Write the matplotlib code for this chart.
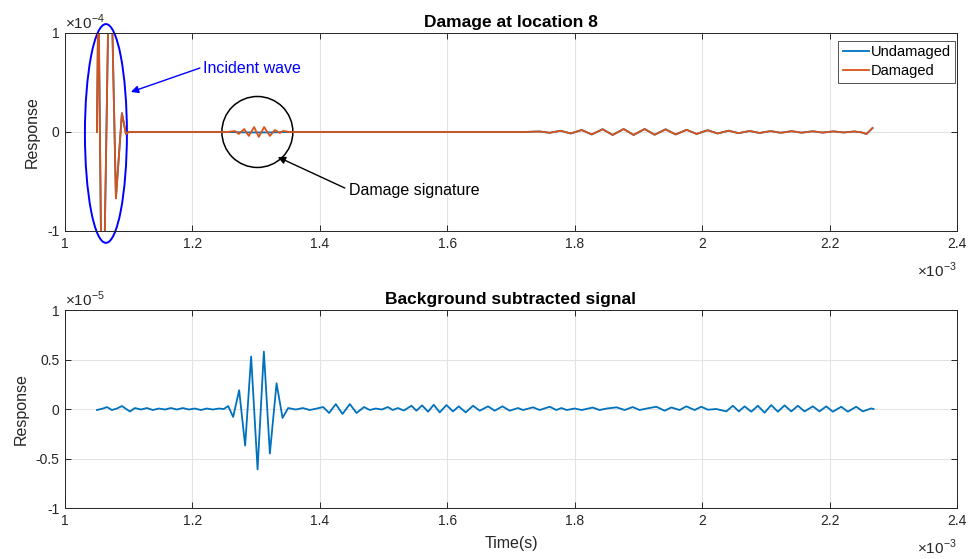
import numpy as np
import matplotlib.pyplot as plt
from matplotlib.patches import Ellipse

plt.rcParams['font.family'] = ['Liberation Sans', 'DejaVu Sans']
plt.rcParams['mathtext.fontset'] = 'custom'
plt.rcParams['mathtext.rm'] = 'Liberation Sans'

# time in ms, top response in 1e-4, bottom response in 1e-5
inc_t = [1.0502, 1.0525, 1.0588, 1.0706, 1.0800, 1.0894, 1.0957, 1.1004]
inc_v = [0.0, 1.5, -2.5, 2.2, -0.67, 0.19, -0.02, 0.0]

und_sig_t = [1.2557, 1.2800, 1.3000, 1.3250, 1.3529]
und_sig_v = [0.0, -0.004, -0.005, -0.004, 0.0]

dmg_sig_t = [1.2557, 1.2667, 1.2729, 1.2813, 1.2886, 1.2969, 1.3043, 1.3126,
             1.3216, 1.3294, 1.3373, 1.3424, 1.3529]
dmg_sig_v = [0.0, 0.01, -0.02, 0.03, -0.04, 0.05, -0.05, 0.05,
             -0.04, 0.02, -0.01, 0.01, 0.0]

ripple_t = [1.7200, 1.7451, 1.7608, 1.7780, 1.7937, 1.8110, 1.8267, 1.8439,
            1.8596, 1.8769, 1.8925, 1.9098, 1.9255, 1.9427, 1.9584, 1.9757,
            1.9914, 2.0086, 2.0243, 2.0416, 2.0573, 2.0745, 2.0902, 2.1075,
            2.1231, 2.1404, 2.1561, 2.1733, 2.1890, 2.2063, 2.2220, 2.2392,
            2.2502, 2.2580, 2.2675]
ripple_v = [0.0, 0.005, -0.008, 0.012, -0.015, 0.02, -0.025, 0.028,
            -0.03, 0.03, -0.03, 0.03, -0.028, 0.027, -0.025, 0.022,
            -0.02, 0.018, -0.015, 0.013, -0.012, 0.01, -0.01, 0.009,
            -0.008, 0.008, -0.007, 0.007, -0.006, 0.006, -0.005, 0.005,
            -0.004, -0.02, 0.04]

diff_t = [1.0502, 1.0596, 1.0659, 1.0737, 1.0816, 1.0894, 1.0973, 1.1020,
          1.1098, 1.1192, 1.1286, 1.1380, 1.1475, 1.1569, 1.1663, 1.1757,
          1.1851, 1.1945, 1.2039, 1.2133, 1.2227, 1.2322, 1.2416, 1.2494,
          1.2562, 1.2640, 1.2734, 1.2828, 1.2922, 1.3023, 1.3122, 1.3216,
          1.3321, 1.3415, 1.3503, 1.3624, 1.3733, 1.3843, 1.3953, 1.4052,
          1.4146, 1.4251, 1.4356, 1.4471, 1.4576, 1.4695, 1.4784, 1.4878,
          1.4973, 1.5067, 1.5145, 1.5224, 1.5318, 1.5438, 1.5517, 1.5605,
          1.5699, 1.5788, 1.5882, 1.5987, 1.6091, 1.6180, 1.6290, 1.6405,
          1.6510, 1.6640, 1.6745, 1.6866, 1.6980, 1.7111, 1.7189, 1.7346,
          1.7451, 1.7608, 1.7713, 1.7791, 1.7875, 1.8000, 1.8110, 1.8282,
          1.8392, 1.8502, 1.8659, 1.8784, 1.8910, 1.9020, 1.9129, 1.9282,
          1.9412, 1.9517, 1.9647, 1.9752, 1.9882, 1.9987, 2.0091, 2.0223,
          2.0380, 2.0483, 2.0577, 2.0667, 2.0772, 2.0875, 2.0980, 2.1085,
          2.1189, 2.1294, 2.1399, 2.1503, 2.1608, 2.1738, 2.1843, 2.1948,
          2.2052, 2.2184, 2.2287, 2.2419, 2.2522, 2.2654, 2.2690]
diff_v = [-0.01, 0.005, 0.02, -0.01, 0.005, 0.03, -0.005, -0.025,
          0.01, -0.005, 0.01, -0.01, 0.005, -0.005, 0.01, -0.005,
          0.01, -0.005, 0.005, -0.01, 0.005, -0.005, 0.005, 0.0,
          0.03, -0.08, 0.19, -0.37, 0.53, -0.61, 0.58, -0.45,
          0.26, -0.09, 0.01, -0.005, 0.01, -0.01, 0.005, 0.02,
          -0.04, 0.05, -0.05, 0.05, -0.04, 0.02, -0.01, 0.005,
          -0.005, 0.02, -0.01, 0.01, -0.015, 0.033, -0.017, 0.037,
          -0.027, 0.043, -0.034, 0.04, -0.024, 0.027, -0.034, 0.033,
          -0.017, 0.027, -0.017, 0.027, -0.017, 0.01, -0.01, 0.017,
          -0.01, 0.023, -0.01, 0.01, -0.01, 0.005, -0.01, 0.015,
          -0.01, 0.005, 0.017, -0.01, 0.02, -0.01, 0.005, 0.023,
          -0.017, 0.016, -0.01, 0.027, -0.01, 0.023, -0.007, 0.0,
          -0.024, 0.033, -0.024, 0.027, -0.027, 0.033, -0.037, 0.04,
          -0.027, 0.037, -0.024, 0.033, -0.024, 0.027, -0.024, 0.027,
          -0.027, 0.023, -0.027, 0.023, -0.024, 0.006, 0.0]

x_ticks = [1, 1.2, 1.4, 1.6, 1.8, 2, 2.2, 2.4]
x_tick_labels = ['1', '1.2', '1.4', '1.6', '1.8', '2', '2.2', '2.4']

BLUE = '#0072BD'
ORANGE = '#D95319'
AXC = '#262626'

und_t = inc_t + und_sig_t + ripple_t
und_v = inc_v + und_sig_v + ripple_v
dmg_t = inc_t + dmg_sig_t + ripple_t
dmg_v = inc_v + dmg_sig_v + ripple_v


def style_axes(ax, yticks, ylabels, exp_y):
    ax.set_xlim(1, 2.4)
    ax.set_ylim(-1, 1)
    ax.set_xticks(x_ticks)
    ax.set_xticklabels(x_tick_labels)
    ax.set_yticks(yticks)
    ax.set_yticklabels(ylabels)
    ax.grid(True, color='#e3e3e3', linewidth=0.8)
    ax.set_axisbelow(True)
    ax.tick_params(direction='in', length=4, width=0.7, colors=AXC,
                   labelsize=10, top=True, right=True, pad=4)
    for s in ax.spines.values():
        s.set_color(AXC)
        s.set_linewidth(0.7)
    ax.set_ylabel('Response', fontsize=11.5, color=AXC, labelpad=5)
    ax.text(0, 1.005, r'$\times10^{%d}$' % exp_y, transform=ax.transAxes,
            ha='left', va='bottom', fontsize=11, color=AXC)
    ax.text(1, -0.15, r'$\times10^{-3}$', transform=ax.transAxes,
            ha='right', va='top', fontsize=11, color=AXC)


fig = plt.figure(figsize=(9.68, 5.59), dpi=100)
ax1 = fig.add_axes([0.0671, 0.5868, 0.9215, 0.3542])
ax2 = fig.add_axes([0.0671, 0.0912, 0.9215, 0.3542])

# top: undamaged vs damaged
ax1.plot(und_t, und_v, color=BLUE, linewidth=1.3, label='Undamaged')
ax1.plot(dmg_t, dmg_v, color=ORANGE, linewidth=1.3, label='Damaged')
style_axes(ax1, [-1, 0, 1], ['-1', '0', '1'], -4)
ax1.set_title('Damage at location 8', fontsize=12.5, fontweight='bold',
              color='black', pad=4)
leg = ax1.legend(loc='upper right', bbox_to_anchor=(0.9978, 0.961),
                 fontsize=10.5, handlelength=1.8, handletextpad=0.1,
                 borderpad=0.3, labelspacing=0.35, fancybox=False,
                 borderaxespad=0)
leg.get_frame().set_edgecolor(AXC)
leg.get_frame().set_linewidth(0.7)

# annotations
ax1.add_patch(Ellipse((1.0643, -0.015), 0.0659, 2.21, fill=False,
                      edgecolor='blue', linewidth=1.4, clip_on=False))
ax1.add_patch(Ellipse((1.302, 0.0), 0.1114, 0.717, fill=False,
                      edgecolor='black', linewidth=1.1, clip_on=False))
ax1.annotate('', xy=(1.1035, 0.404), xytext=(1.2118, 0.646),
             arrowprops=dict(arrowstyle='-|>', color='blue', lw=1.0,
                             mutation_scale=11, shrinkA=0, shrinkB=0))
ax1.text(1.2165, 0.646, 'Incident wave', color='blue', fontsize=11.5,
         ha='left', va='center')
ax1.annotate('', xy=(1.3341, -0.253), xytext=(1.4392, -0.566),
             arrowprops=dict(arrowstyle='-|>', color='black', lw=1.0,
                             mutation_scale=11, shrinkA=0, shrinkB=0))
ax1.text(1.4455, -0.596, 'Damage signature', color='black', fontsize=11.5,
         ha='left', va='center')

# bottom: difference
ax2.plot(diff_t, diff_v, color=BLUE, linewidth=1.3)
style_axes(ax2, [-1, -0.5, 0, 0.5, 1], ['-1', '-0.5', '0', '0.5', '1'], -5)
ax2.set_title('Background subtracted signal', fontsize=12.5, fontweight='bold',
              color='black', pad=4)
ax2.set_xlabel('Time(s)', fontsize=11.5, color=AXC, labelpad=6)

fig.savefig('out.png', dpi=100)
